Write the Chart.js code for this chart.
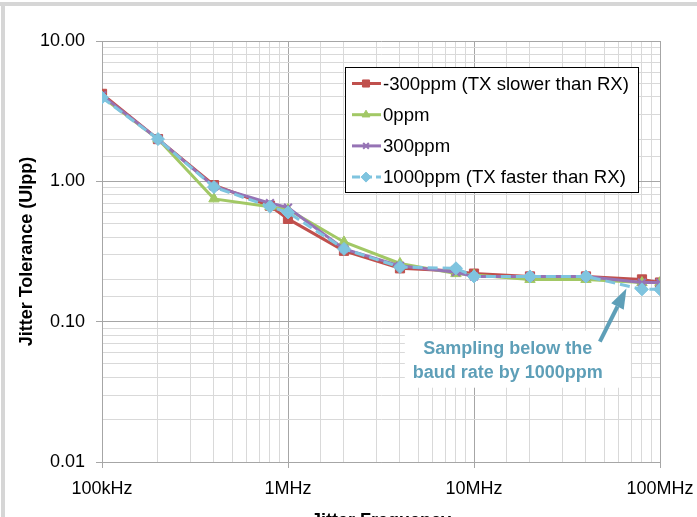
<!DOCTYPE html>
<html>
<head>
<meta charset="utf-8">
<script src="https://cdn.jsdelivr.net/npm/chart.js@4.4.1/dist/chart.umd.min.js"></script>
<style>
  html, body { margin: 0; padding: 0; background: #fff; }
  #wrap { width: 697px; height: 517px; position: relative; overflow: hidden; }
</style>
</head>
<body>
<div id="wrap"><canvas id="chart" width="697" height="517"></canvas></div>
<script>
// jitter frequency (Hz) for each measured point
const frequencies = [1e5, 2e5, 4e5, 8e5, 1e6, 2e6, 4e6, 8e6, 1e7, 2e7, 4e7, 8e7, 1e8];

// jitter tolerance (UIpp) per ppm offset
const minus300ppm = [4.2, 2.0, 0.94, 0.67, 0.54, 0.32, 0.24, 0.23, 0.22, 0.21, 0.21, 0.20, 0.19];
const zeroPpm     = [4.0, 2.0, 0.75, 0.66, 0.63, 0.37, 0.26, 0.22, 0.215, 0.20, 0.20, 0.19, 0.19];
const plus300ppm  = [4.1, 2.0, 0.92, 0.70, 0.65, 0.33, 0.25, 0.225, 0.21, 0.21, 0.21, 0.19, 0.19];
const plus1000ppm = [3.95, 2.0, 0.91, 0.66, 0.60, 0.33, 0.245, 0.24, 0.21, 0.21, 0.21, 0.17, 0.17];

const seriesNames = [
  '-300ppm (TX slower than RX)',
  '0ppm',
  '300ppm',
  '1000ppm (TX faster than RX)'
];

const xTickValues = [1e5, 1e6, 1e7, 1e8];
const xTickLabels = ['100kHz', '1MHz', '10MHz', '100MHz'];
const yTickValues = [0.01, 0.1, 1, 10];
const yTickLabels = ['0.01', '0.10', '1.00', '10.00'];

const noteLines = ['Sampling below the', 'baud rate by 1000ppm'];

const FONT = "'Liberation Sans', Arial, sans-serif";

function isDecade(v) {
  const l = Math.log10(v);
  return Math.abs(l - Math.round(l)) < 1e-6;
}

function labelFor(values, labels, v) {
  const i = values.findIndex(t => Math.abs(t - v) / t < 1e-6);
  return i >= 0 ? labels[i] : '';
}

function toPoints(ys) {
  return frequencies.map((f, i) => ({ x: f, y: ys[i] }));
}

const styles = [
  { color: '#C0504D', pointStyle: 'rect', radius: 6.5, dash: [] },
  { color: '#A2C865', pointStyle: 'triangle', radius: 6, dash: [] },
  { color: '#9673B5', pointStyle: 'crossRot', radius: 5.5, dash: [] },
  { color: '#7FC4DF', pointStyle: 'rectRot', radius: 6.5, dash: [10, 5] }
];
const seriesValues = [minus300ppm, zeroPpm, plus300ppm, plus1000ppm];

const datasets = seriesValues.map((vals, i) => ({
  label: seriesNames[i],
  data: toPoints(vals),
  borderColor: styles[i].color,
  backgroundColor: styles[i].color,
  borderWidth: 3,
  borderDash: styles[i].dash,
  pointStyle: styles[i].pointStyle,
  pointRadius: styles[i].radius,
  pointBorderWidth: styles[i].pointStyle === 'crossRot' ? 2 : 1,
  pointBorderColor: styles[i].color,
  pointBackgroundColor: styles[i].color,
  tension: 0,
  order: 3 - i
}));

// legend box, annotation and outer frame
const extras = {
  id: 'extras',
  afterDatasetsDraw(chart) {
    const ctx = chart.ctx;
    const xs = chart.scales.x, ys = chart.scales.y;
    ctx.save();

    // legend
    const lx = 345, ly = 67, lw = 293, lh = 125;
    ctx.fillStyle = '#fff';
    ctx.fillRect(lx, ly, lw, lh);
    ctx.strokeStyle = '#000';
    ctx.lineWidth = 1;
    ctx.setLineDash([]);
    ctx.strokeRect(lx + 0.5, ly + 0.5, lw, lh);
    seriesNames.forEach((name, i) => {
      const cy = ly + 16.5 + i * 31.2;
      const s = styles[i];
      ctx.strokeStyle = s.color;
      ctx.fillStyle = s.color;
      ctx.lineWidth = 3;
      ctx.setLineDash(s.dash.length ? [8, 4] : []);
      ctx.beginPath();
      ctx.moveTo(352, cy);
      ctx.lineTo(381, cy);
      ctx.stroke();
      ctx.setLineDash([]);
      ctx.lineWidth = s.pointStyle === 'crossRot' ? 2 : 1;
      Chart.helpers.drawPoint(ctx, { pointStyle: s.pointStyle, radius: s.radius - 1.5, rotation: 0, borderWidth: ctx.lineWidth }, 366, cy);
      ctx.fillStyle = '#000';
      ctx.font = '18.6px ' + FONT;
      ctx.textBaseline = 'middle';
      ctx.textAlign = 'left';
      ctx.fillText(name, 383, cy + 1);
    });

    // annotation text with white box
    const tx = xs.getPixelForValue(1.52e7);
    const ty = ys.getPixelForValue(0.0527);
    ctx.fillStyle = '#fff';
    ctx.fillRect(tx - 103, ty - 30, 226, 57);
    ctx.fillStyle = '#5E9FB8';
    ctx.font = 'bold 18px ' + FONT;
    ctx.textAlign = 'center';
    ctx.textBaseline = 'middle';
    ctx.fillText(noteLines[0], tx, ty - 12);
    ctx.fillText(noteLines[1], tx, ty + 12);

    // arrow pointing at the 1000ppm drop
    const ax0 = xs.getPixelForValue(4.75e7), ay0 = ys.getPixelForValue(0.072);
    const ax1 = xs.getPixelForValue(6.6e7), ay1 = ys.getPixelForValue(0.172);
    const dx = ax1 - ax0, dy = ay1 - ay0, len = Math.hypot(dx, dy);
    const ux = dx / len, uy = dy / len;
    const hl = 20, hw = 7;
    const bx = ax1 - ux * hl, by = ay1 - uy * hl;
    ctx.strokeStyle = '#5E9FB8';
    ctx.lineWidth = 4;
    ctx.beginPath();
    ctx.moveTo(ax0, ay0);
    ctx.lineTo(bx, by);
    ctx.stroke();
    ctx.fillStyle = '#5E9FB8';
    ctx.beginPath();
    ctx.moveTo(ax1, ay1);
    ctx.lineTo(bx - uy * hw, by + ux * hw);
    ctx.lineTo(bx + uy * hw, by - ux * hw);
    ctx.closePath();
    ctx.fill();

    // outer frame of the original chart
    ctx.fillStyle = '#d6d6d6';
    ctx.fillRect(0, 2, 697, 4);
    ctx.fillRect(1, 2, 4, 515);
    ctx.restore();
  }
};

new Chart(document.getElementById('chart'), {
  type: 'line',
  data: { datasets: datasets },
  options: {
    responsive: false,
    animation: false,
    devicePixelRatio: 1,
    layout: { padding: { top: 41, right: 37, left: 0, bottom: 0 } },
    plugins: {
      legend: { display: false },
      tooltip: { enabled: false }
    },
    scales: {
      x: {
        type: 'logarithmic',
        min: 1e5,
        max: 1e8,
        afterFit: s => { s.height = 55; s.paddingLeft = 0; s.paddingRight = 0; },
        grid: {
          color: c => (c.tick && isDecade(c.tick.value)) ? '#a6a6a6' : '#d9d9d9',
          tickColor: c => (c.tick && isDecade(c.tick.value)) ? '#a6a6a6' : 'rgba(0,0,0,0)',
          tickLength: 6,
          lineWidth: 1
        },
        border: { color: '#a6a6a6' },
        ticks: {
          autoSkip: false,
          maxRotation: 0,
          padding: 10,
          color: '#000',
          font: { family: FONT, size: 18 },
          callback: v => labelFor(xTickValues, xTickLabels, v)
        },
        title: {
          display: true,
          text: 'Jitter Frequency',
          color: '#000',
          font: { family: FONT, size: 18, weight: 'bold' },
          padding: { top: 0, bottom: -15 }
        }
      },
      y: {
        type: 'logarithmic',
        min: 0.01,
        max: 10,
        afterFit: s => { s.width = 102; s.paddingTop = 0; s.paddingBottom = 0; },
        grid: {
          color: c => (c.tick && isDecade(c.tick.value)) ? '#a6a6a6' : '#d9d9d9',
          tickColor: c => (c.tick && isDecade(c.tick.value)) ? '#a6a6a6' : 'rgba(0,0,0,0)',
          tickLength: 6,
          lineWidth: 1
        },
        border: { color: '#a6a6a6' },
        ticks: {
          autoSkip: false,
          padding: 11,
          color: '#000',
          font: { family: FONT, size: 18 },
          callback: v => labelFor(yTickValues, yTickLabels, v)
        },
        title: {
          display: true,
          text: 'Jitter Tolerance (UIpp)',
          color: '#000',
          font: { family: FONT, size: 18, weight: 'bold' },
          padding: { top: 16, bottom: 0 }
        }
      }
    }
  },
  plugins: [extras]
});
</script>
</body>
</html>
